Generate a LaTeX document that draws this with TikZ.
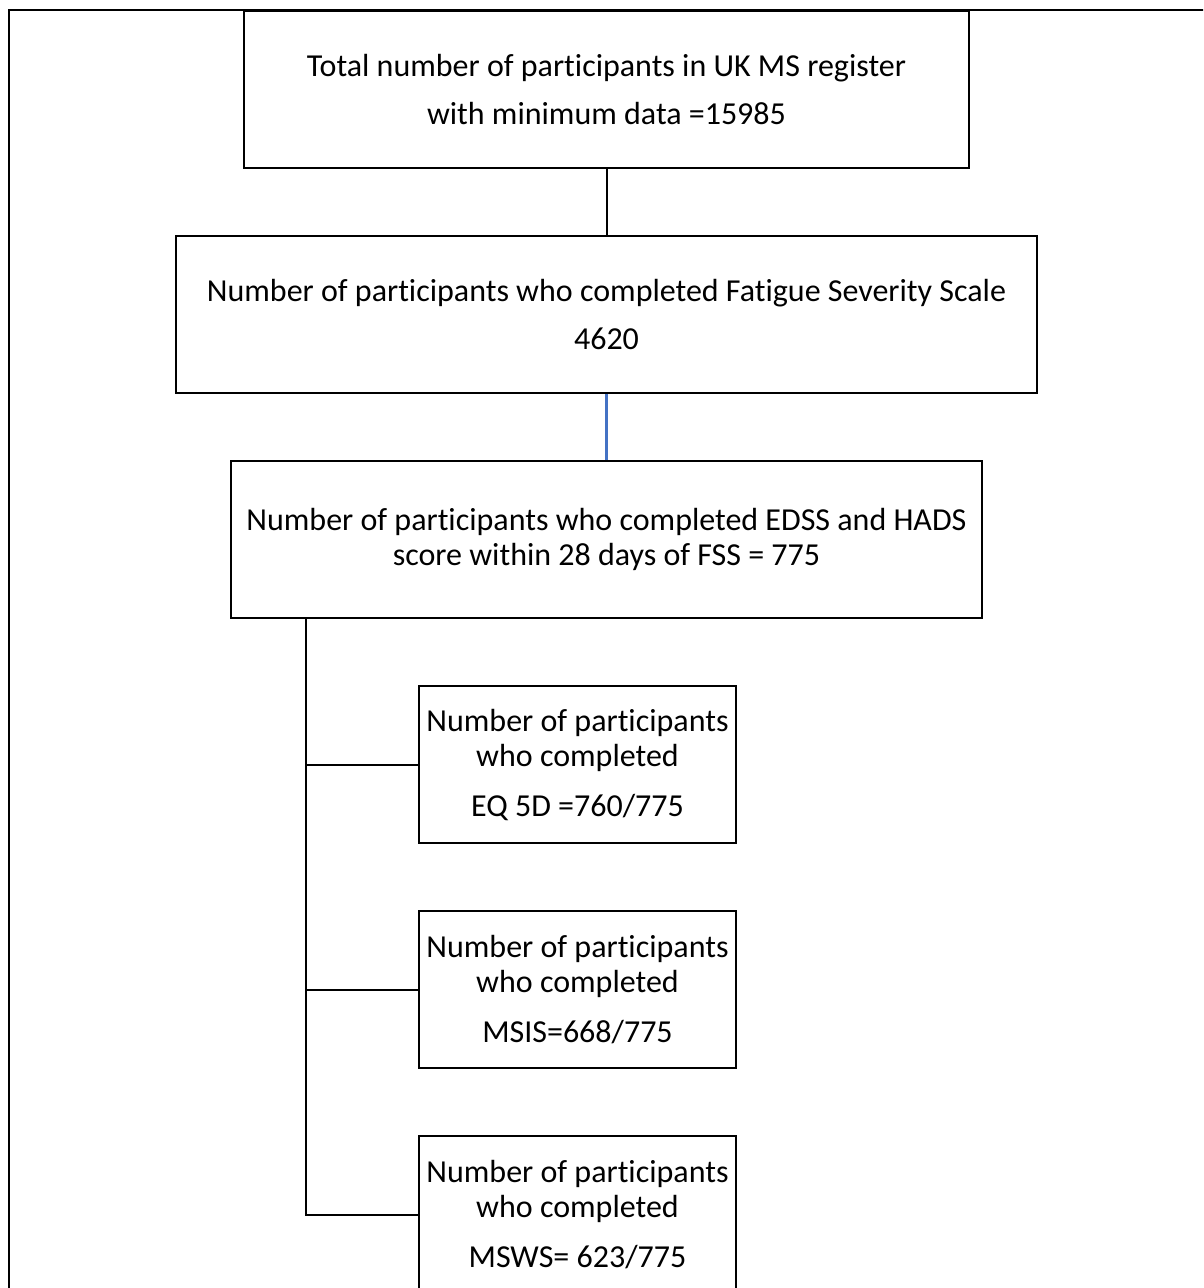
\documentclass[tikz,border=0pt]{standalone}
\usepackage{fontspec}
\setmainfont{Carlito}[Ligatures=CommonOff]
\usepackage{tikz}
\usetikzlibrary{positioning}
\definecolor{linkblue}{RGB}{68,114,196}

\begin{document}
\begin{tikzpicture}[x=1pt,y=1pt,node distance={225pt},line width=2pt,
    main/.style = {draw, rectangle, line width=2.4pt, minimum height=157pt, inner sep=2pt, align=center, font=\fontsize{32}{35}\selectfont},
    small/.style = {main, minimum width=317pt}]
      \clip (0,0) rectangle (1203,-1288);
      \draw (8.5,-9.5) rectangle (1260,-1340);

      \node[main, minimum width=725pt] at (606.5,-89.5) (1){Total number of participants in UK MS register\\[13pt]with minimum data =15985};
      \node[main, minimum width=861pt](2)[below of=1]{Number of participants who completed Fatigue Severity Scale\\[13pt]4620};
      \node[main, minimum width=751pt](3)[below of=2]{Number of participants who completed EDSS and HADS\\score within 28 days of FSS = 775};

      \node[small](4)[below of=3, xshift=-29pt]{Number of participants\\who completed\\[15pt]EQ 5D =760/775};
      \node[small](5)[below of=4]{Number of participants\\who completed\\[15pt]MSIS=668/775};
      \node[small](6)[below of=5]{Number of participants\\who completed\\[15pt]MSWS= 623/775};

      \coordinate (t) at (306,-619);

      \path
      (1) edge (2)
      (2) edge[linkblue, line width=2.2pt] (3)
      ;

      \foreach \n in {4,5,6}
        \draw (t) |- (\n.west);

    \end{tikzpicture}
\end{document}
